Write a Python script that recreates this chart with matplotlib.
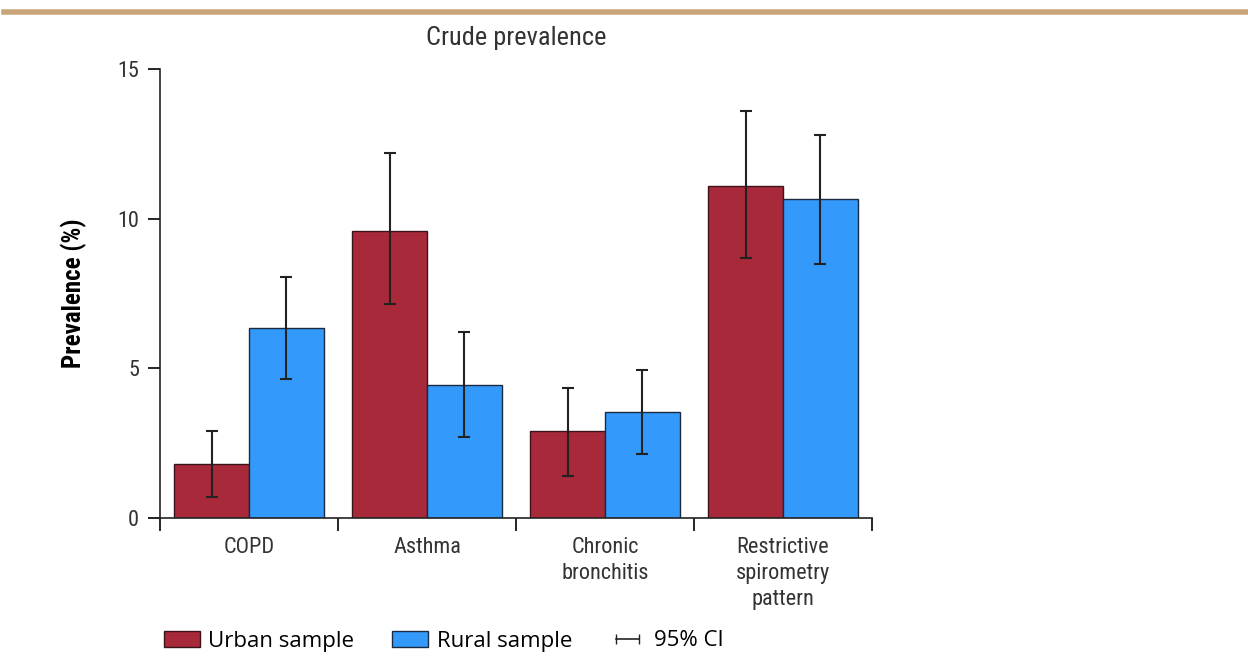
import matplotlib
matplotlib.use("Agg")
import matplotlib.pyplot as plt
from matplotlib.patches import Patch
from matplotlib.lines import Line2D
import numpy as np

categories = ["COPD", "Asthma", "Chronic\nbronchitis", "Restrictive\nspirometry\npattern"]
urban = [1.8, 9.6, 2.9, 11.1]
urban_lo = [0.7, 7.15, 1.4, 8.7]
urban_hi = [2.9, 12.2, 4.35, 13.6]
rural = [6.35, 4.45, 3.55, 10.65]
rural_lo = [4.65, 2.7, 2.15, 8.5]
rural_hi = [8.05, 6.2, 4.95, 12.8]

narrow = ["Roboto Condensed", "Liberation Sans Narrow", "Roboto", "DejaVu Sans"]
red = "#a8293a"
blue = "#3399fa"

fig = plt.figure(figsize=(12.48, 6.69), dpi=100)
ax = fig.add_axes([160/1248, 1 - 518/669, 712/1248, 449/669])

x = np.arange(len(categories))
w = 0.42
u_err = [np.array(urban) - np.array(urban_lo), np.array(urban_hi) - np.array(urban)]
r_err = [np.array(rural) - np.array(rural_lo), np.array(rural_hi) - np.array(rural)]
ax.bar(x - w/2, urban, w, color=red, edgecolor="#3a1418", linewidth=1, zorder=2)
ax.bar(x + w/2, rural, w, color=blue, edgecolor="#1a2a40", linewidth=1, zorder=2)
ax.errorbar(x - w/2, urban, yerr=u_err, fmt="none", ecolor="#222222", elinewidth=1.5, capsize=4, capthick=1.5, zorder=3)
ax.errorbar(x + w/2, rural, yerr=r_err, fmt="none", ecolor="#222222", elinewidth=1.5, capsize=4, capthick=1.5, zorder=3)

ax.set_xlim(-0.5, len(categories) - 0.5)
ax.set_ylim(0, 15)
ax.set_yticks([0, 5, 10, 15])
ax.set_yticklabels(["0", "5", "10", "15"], family=narrow, fontsize=16, color="#333333")
ax.set_xticks(x)
ax.set_xticklabels(categories, family=narrow, fontsize=16, color="#333333", linespacing=1.3)
ax.set_xticks(np.arange(-0.5, len(categories)), minor=True)
ax.tick_params(axis="x", which="major", length=0, pad=14)
ax.tick_params(axis="x", which="minor", length=9, width=1.2, direction="out")
ax.tick_params(axis="y", length=9, width=1.2, pad=6)
for s in ["top", "right"]:
    ax.spines[s].set_visible(False)
for s in ["left", "bottom"]:
    ax.spines[s].set_linewidth(1.2)
    ax.spines[s].set_color("#222222")

ax.set_ylabel("Prevalence (%)", family=narrow, fontsize=18, fontweight="bold", labelpad=22)
ax.set_title("Crude prevalence", family=narrow, fontsize=19, color="#333333", pad=17)

# tan rule at top
fig.add_artist(Line2D([4/1248, 1], [1 - 12/669, 1 - 12/669], color="#c9a67a", linewidth=4))

handles = [
    Patch(facecolor=red, edgecolor="#3a1418", linewidth=1),
    Patch(facecolor=blue, edgecolor="#1a2a40", linewidth=1),
    Line2D([0], [0], color="#222222", marker="|", markersize=7, linewidth=1.2),
]
fig.legend(handles, ["Urban sample", "Rural sample", "95% CI"], loc="center left",
           bbox_to_anchor=(144/1248, 1 - 641/669), ncol=3, frameon=False,
           numpoints=2, handlelength=1.6, handleheight=0.7, handletextpad=0.4,
           columnspacing=1.7, prop={"family": "Open Sans", "size": 16})

fig.savefig("out.png", dpi=100)
